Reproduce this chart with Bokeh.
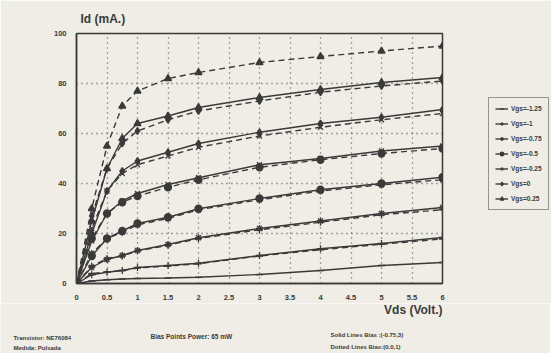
from bokeh.plotting import figure
from bokeh.models import Legend, LegendItem, FixedTicker, Range1d, Title
from bokeh.layouts import column
from bokeh.core.properties import value
from bokeh.embed import file_html
from bokeh.resources import INLINE

vds = [0, 0.25, 0.5, 0.75, 1, 1.5, 2, 3, 4, 5, 6]
vgs_labels = ["Vgs=-1.25", "Vgs=-1", "Vgs=-0.75", "Vgs=-0.5", "Vgs=-0.25", "Vgs=0", "Vgs=0.25"]
markers = ["dash", "cross", "asterisk", "circle", "x", "diamond", "triangle"]

# solid lines: bias (-0.75, 3)
solid_m125 = [0, 1.0, 1.5, 1.8, 2.0, 2.2, 2.5, 3.6, 5.2, 7.2, 8.4]
solid_m100 = [0, 3.5, 4.5, 5.2, 6.4, 7.2, 8.1, 11.2, 13.9, 16.0, 18.4]
solid_m075 = [0, 6.5, 9.6, 11.2, 13.2, 15.6, 18.3, 22.0, 25.0, 28.0, 30.4]
solid_m050 = [0, 11, 18, 21, 24, 26.5, 29.9, 34, 37.5, 40, 42.5]
solid_m025 = [0, 17, 28, 33, 36, 39.6, 42.3, 47.5, 50, 53, 55]
solid_p000 = [0, 20, 37, 45, 49, 52.5, 56, 60.5, 64, 66.5, 69.6]
solid_p025 = [0, 25, 46, 58, 64, 67, 70.4, 74.4, 77.6, 80.4, 82.4]

# dotted lines: bias (0.0, 1)
dash_m125 = [0, 4, 4.6, 5.2, 6.2, 7, 7.9, 11, 13.5, 15.7, 17.8]
dash_m100 = [0, 7, 10, 11, 13, 15.3, 18, 21.5, 24.5, 27.5, 29.5]
dash_m075 = [0, 12, 18, 20.5, 23.5, 26, 29.5, 33.5, 37, 39.5, 41.5]
dash_m050 = [0, 18, 28, 32.5, 35, 38.5, 41.5, 46.5, 49.5, 52, 54]
dash_m025 = [0, 22, 37, 44, 47.5, 51, 54.5, 59, 62.5, 65.5, 68]
dash_p000 = [0, 27, 46, 56, 61, 65.5, 69, 73, 76.5, 79, 81]
dash_p025 = [0, 30, 55, 71, 77, 82, 84.4, 88.4, 90.8, 93, 95]

solids = [solid_m125, solid_m100, solid_m075, solid_m050, solid_m025, solid_p000, solid_p025]
dashes = [dash_m125, dash_m100, dash_m075, dash_m050, dash_m025, dash_p000, dash_p025]

x_ticks = [0, 0.5, 1, 1.5, 2, 2.5, 3, 3.5, 4, 4.5, 5, 5.5, 6]
y_ticks = [0, 20, 40, 60, 80, 100]

footer_texts = ["Vds (Volt.)", "Transistor: NE76084", "Medida: Pulsada", "Bias Points Power: 65 mW",
                "Solid Lines Bias :(-0.75,3)", "Dotted Lines Bias:(0.0,1)"]
footer_x = [442, 13, 13, 150, 330, 330]
footer_y = [309, 337, 347, 336, 334, 346]
footer_size = ["12px", "6px", "6px", "6.5px", "6px", "6px"]
footer_align = ["right", "left", "left", "left", "left", "left"]

BG = "#efede6"
INK = "#3a3a3a"
FONT = "Liberation Sans"

p = figure(width=550, height=303, output_backend="svg", toolbar_location=None,
           x_range=Range1d(0, 6), y_range=Range1d(0, 100),
           min_border_left=76, min_border_right=108, min_border_top=33, min_border_bottom=20)
p.frame_width = 366
p.frame_height = 250
p.background_fill_color = BG
p.border_fill_color = BG
p.outline_line_color = INK
p.outline_line_width = 1.5

for ax in (p.xaxis[0], p.yaxis[0]):
    ax.axis_line_color = INK
    ax.axis_line_width = 1.5
    ax.major_tick_line_color = None
    ax.minor_tick_line_color = None
    ax.major_label_text_font = FONT
    ax.major_label_text_font_style = "bold"
    ax.major_label_text_font_size = "7.5px"
    ax.major_label_text_color = INK
p.xaxis.ticker = FixedTicker(ticks=x_ticks)
p.yaxis.ticker = FixedTicker(ticks=y_ticks)
p.xaxis.major_label_standoff = 5
p.yaxis.major_label_standoff = 4

p.add_layout(Title(text="Id (mA.)", align="left", offset=4, text_font=FONT,
                   text_font_style="bold", text_font_size="12px", text_color=INK,
                   vertical_align="middle", standoff=13), "above")

p.grid.grid_line_color = "#555555"
p.grid.grid_line_dash = "1 4"
p.grid.grid_line_width = 1.3

items = []
for lab, mk, s, d in zip(vgs_labels, markers, solids, dashes):
    r1 = p.line(vds, s, line_color=INK, line_width=1.4)
    p.line(vds, d, line_color=INK, line_width=1.4, line_dash="6 4")
    r2 = p.scatter(vds, s, marker=mk, size=7, line_color=INK, fill_color=INK, line_width=1.3)
    p.scatter(vds, d, marker=mk, size=7, line_color=INK, fill_color=INK, line_width=1.3)
    items.append(LegendItem(label=lab, renderers=[r1, r2]))

legend = Legend(items=items, location=(46, 73), orientation="vertical",
                background_fill_color=BG, background_fill_alpha=1.0,
                border_line_color=INK, border_line_width=1.2,
                label_text_font=FONT, label_text_font_style="bold",
                label_text_font_size="6.5px", label_text_color=INK,
                glyph_width=13, glyph_height=9, spacing=6, padding=6,
                label_standoff=3, margin=0)
p.add_layout(legend, "right")

# footer strip with the axis title and notes below the chart
f = figure(width=550, height=50, output_backend="svg", toolbar_location=None,
           x_range=Range1d(0, 550), y_range=Range1d(353, 303),
           min_border_left=0, min_border_right=0, min_border_top=0, min_border_bottom=0,
           x_axis_type=None, y_axis_type=None)
f.background_fill_color = BG
f.border_fill_color = BG
f.outline_line_color = None
f.grid.visible = False
for t, x, y, s, a in zip(footer_texts, footer_x, footer_y, footer_size, footer_align):
    f.text(x=[x], y=[y], text=[t], text_font=value(FONT), text_font_style="bold",
           text_font_size=s, text_color=INK, text_baseline="middle", text_align=a)

layout = column(p, column(f, spacing=0), spacing=0)
open("out.html", "w").write(file_html(layout, INLINE))
